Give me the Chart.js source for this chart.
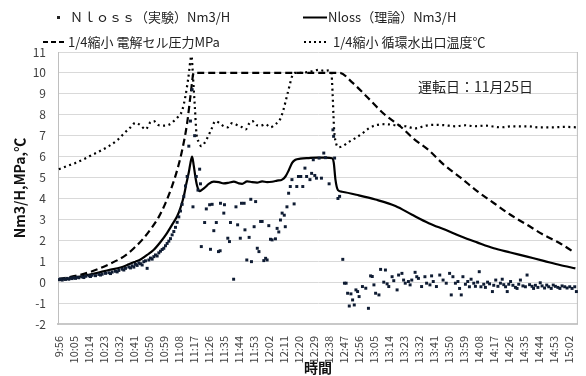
<!DOCTYPE html>
<html lang="ja">
<head>
<meta charset="utf-8">
<script src="https://cdn.jsdelivr.net/npm/chart.js@4.4.1/dist/chart.umd.min.js"></script>
<style>
    html, body { margin: 0; padding: 0; background: #fff; }
    #grafico { width: 586px; height: 376px; position: relative; }
</style>
</head>
<body>
<div id="grafico"><canvas id="lienzo" width="586" height="376"></canvas></div>
<script>
//--------Datos (minutos desde 9:56)
const etiquetasHora = ["9:56","10:05","10:14","10:23","10:32","10:41","10:50","10:59","11:08","11:17",
    "11:26","11:35","11:44","11:53","12:02","12:11","12:20","12:29","12:38","12:47","12:56","13:05",
    "13:14","13:23","13:32","13:41","13:50","13:59","14:08","14:17","14:26","14:35","14:44","14:53","15:02"]
const pasoEtiqueta = 9

//Nloss (実験)
const expT = [0,1,2,3,4,5,6,7,8,9,10,11,12,14,15,16,18,19,20,22,24,25,26,28,30,31,32,34,35,36,38,39,40,42,43,44,45,46,47,48,49,50,51,52,53,54,55,56,57,58,59,60,61,62,63,64,65,66,67,68,69,70,71,72,73,74,75,76,77,78,79,80,80.5,81.5,82.5,83.5,84.5,85,85.5,
    87.5,88.5,90.5,91,92,93,94.5,95.8,96.8,97,99,99.4,101.4,102.4,103,104.9,106.3,107.3,108.9,109.6,111.2,111.7,112.8,114.2,115.2,115.6,117.2,118.1,119.1,120.1,121.1,122,123,124.1,125,126,127,128,130,131,132,133,134,135.3,135.9,136.9,137.9,138.9,139.9,141.2,142.8,143.8,145.2,146.4,147.7,148.7,150.7,151.7,152.7,153.6,154.6,156.2,157.6,159,160,162.2,164.5,164.9,165.5,167.5,168.5,
    170.4,171.4,172.4,173.3,174.3,175.3,176.3,177.3,178.3,179.3,180.2,182.2,184.2,185.8,187.1,188.1,189.1,190.1,192.1,193.1,195,196,197,198,200,201,203,203.9,205.9,206.9,207.9,209.8,210.8,211.8,213.8,214.8,215.8,217.7,219.7,220.7,222.7,223.7,224.7,226.6,228.6,230.6,232.5,234.5,235.5,
    236.5,238,239.5,240.5,241.5,242.5,244,245.4,246.4,247.4,249,250,251.3,252.3,253.3,255,256,257.3,258.5,260.2,261,262.2,263.5,265,266.1,267,268.1,269.1,270,271.1,272.5,274,275,276,277,278.5,280,281,282.5,284,284.9,286,287.5,288.9,290,291.5,292.8,294,295.5,296.7,298,299.5,300.7,302,303.6,305,306.6,308,309.6,310.6]
const expV = [0.12,0.15,0.10,0.16,0.13,0.18,0.14,0.20,0.17,0.22,0.18,0.24,0.21,0.25,0.22,0.28,0.30,0.27,0.33,0.31,0.37,0.34,0.38,0.42,0.45,0.41,0.48,0.52,0.49,0.56,0.62,0.58,0.66,0.72,0.68,0.78,0.72,0.85,0.80,0.92,0.88,0.82,0.98,1.02,0.66,1.06,1.15,1.10,1.22,1.30,1.25,1.40,1.48,1.56,1.62,1.74,1.85,1.96,2.08,2.26,2.42,2.62,2.86,3.12,3.40,3.72,4.10,4.60,5.05,6.50,7.70,9.20,3.60,7.00,5.05,4.40,5.40,4.70,1.70,
    2.85,3.50,3.70,1.57,3.72,2.46,2.85,1.46,1.50,3.77,3.30,3.70,2.10,1.94,2.85,0.14,3.60,2.74,2.10,3.77,3.77,2.50,1.06,2.14,3.96,0.98,2.65,3.85,1.62,1.46,2.90,2.90,1.03,1.14,1.06,2.70,2.05,2.02,2.07,2.57,2.40,2.97,3.30,3.20,2.65,3.60,4.25,4.57,4.90,3.74,4.57,5.05,5.05,4.57,5.45,5.05,4.90,5.20,5.85,5.10,4.97,5.93,4.97,6.17,5.95,4.70,7.28,6.97,5.93,4.00,4.10,
    1.09,-0.05,-0.05,-0.53,-1.14,-0.56,-0.85,-1.09,-0.37,-0.45,-0.69,-0.21,-0.29,-1.25,0.30,0.27,-0.13,-0.53,-0.61,0.61,0.00,0.58,-0.08,-0.21,0.26,0.07,-0.37,0.34,0.42,0.10,-0.05,0.03,-0.13,0.10,0.47,0.26,0.18,-0.21,0.26,-0.05,-0.13,0.30,0.03,-0.21,0.34,0.10,-0.05,0.42,-0.61,
    0.26,-0.05,0.03,-0.30,-0.61,0.26,-0.10,0.03,-0.22,0.14,-0.05,-0.20,0.00,0.50,-0.22,-0.10,-0.25,0.00,-0.08,-0.45,-0.15,0.10,-0.20,-0.05,0.14,-0.12,-0.22,-0.45,-0.10,0.03,-0.15,-0.25,-0.30,-0.10,0.10,-0.18,-0.22,0.34,-0.12,-0.20,-0.30,-0.15,-0.25,-0.03,-0.18,-0.28,-0.14,-0.22,-0.30,-0.14,-0.20,-0.25,-0.30,-0.18,-0.22,-0.28,-0.22,-0.30,-0.22,-0.45]

//Nloss (理論)
const teoT = [0,10,17,25,30,37,42,46,49,53,57,61,65,68,71,73,75,76.5,78,79,80,81,82,83,84.5,86,88,90,93,96,99,102,105,108,110,113,116,119,122,125,128,131,134,136,138,140,142,145,150,155,160,164,165,166,167.5,170,180,190,202,212,222,232,241.5,251,261,271,281,291,300.7,310]
const teoV = [0.10,0.22,0.34,0.48,0.58,0.70,0.85,0.98,1.08,1.30,1.55,1.92,2.36,2.75,3.15,3.55,4.10,4.70,5.25,5.70,6.00,5.55,5.00,4.60,4.35,4.42,4.55,4.70,4.80,4.78,4.72,4.75,4.80,4.72,4.70,4.82,4.78,4.76,4.82,4.78,4.80,4.85,4.90,5.05,5.35,5.70,5.85,5.90,5.93,5.95,5.95,5.92,5.70,4.90,4.40,4.32,4.15,3.95,3.64,3.22,2.82,2.50,2.18,1.90,1.62,1.42,1.22,1.02,0.82,0.66]

//1/4縮小 電解セル圧力
const presionT = [0,10,20,30,40,45,50,55,60,64,68,71,74,77,79,81,100,120,140,160,168.5,176,185,195,205,213,221.7,231,241.5,251,261.2,271,281,290,300.7,308.6]
const presionV = [0.15,0.30,0.52,0.85,1.28,1.62,2.02,2.52,3.12,3.78,4.60,5.35,6.30,7.60,8.90,10.00,10.00,10.00,10.00,10.00,10.00,9.55,8.85,8.05,7.44,6.85,6.33,5.62,4.97,4.35,3.77,3.22,2.74,2.30,1.86,1.46]

//1/4縮小 循環水出口温度
const tempT = [0,5,10,15,20,25,30,35,39,43,46,49,52,55,57,60,63,66,69,71,74,76,77.6,79.6,80.6,81.6,82.6,84,85.5,88.5,91.5,94,96.4,99,101.3,104,107.3,110,112.2,114,116.1,119,121.1,124,127,130,132.9,135,136.9,138.5,139.8,141.5,145,150,153,156,159,162,163.5,164.3,164.8,165.2,166.5,168,170.4,174,178.3,182,186,190.2,196,202,208,213.9,220,226,231.6,238,244,249.4,256,265.2,272,281,288,296.7,304,310.5]
const tempV = [5.40,5.55,5.70,5.88,6.08,6.28,6.50,6.78,7.10,7.40,7.62,7.50,7.30,7.65,7.70,7.50,7.48,7.52,7.70,7.85,8.20,8.90,9.70,10.80,9.70,8.40,7.10,6.70,6.50,6.80,7.30,7.70,7.60,7.45,7.40,7.60,7.50,7.40,7.30,7.55,7.70,7.50,7.48,7.55,7.40,7.55,7.80,8.30,8.90,9.40,9.80,10.00,10.00,10.05,10.10,10.15,10.10,10.12,10.05,9.00,8.00,7.30,6.60,6.45,6.50,6.70,6.90,7.10,7.35,7.50,7.55,7.50,7.45,7.35,7.48,7.52,7.50,7.45,7.50,7.45,7.48,7.40,7.45,7.45,7.40,7.40,7.42,7.40]

const nombresSeries = ["Ｎｌｏｓｓ（実験）Nm3/H", "Nloss（理論）Nm3/H", "1/4縮小 電解セル圧力MPa", "1/4縮小 循環水出口温度℃"]

const fuente = "'Noto Sans CJK JP', 'Noto Sans', sans-serif"

function aPuntos(xs, ys) {
    return xs.map((x, i) => ({ x: x, y: ys[i] }))
}

//----Leyenda y anotación dibujadas a mano
const pluginLeyenda = {
    id: "leyendaManual",
    beforeDatasetsDraw(chart) {
        const ctx = chart.ctx
        const area = chart.chartArea
        ctx.save()
        ctx.strokeStyle = "#bfbfbf"
        ctx.lineWidth = 1
        ctx.beginPath()
        ctx.moveTo(area.right - 0.5, area.top)
        ctx.lineTo(area.right - 0.5, area.bottom)
        ctx.stroke()
        ctx.restore()
    },
    afterDraw(chart) {
        const ctx = chart.ctx
        ctx.save()
        ctx.font = "13px " + fuente
        ctx.fillStyle = "#222"
        ctx.textBaseline = "middle"
        ctx.textAlign = "left"

        //item 1: marcador cuadrado
        ctx.fillRect(57, 16, 3, 3)
        ctx.fillText(nombresSeries[0], 70, 17.5)

        //item 2: línea continua
        ctx.strokeStyle = "#000"
        ctx.lineWidth = 2
        ctx.beginPath()
        ctx.moveTo(303, 17.5)
        ctx.lineTo(327, 17.5)
        ctx.stroke()
        ctx.fillText(nombresSeries[1], 328, 17.5)

        //item 3: discontinua
        ctx.setLineDash([5, 3])
        ctx.beginPath()
        ctx.moveTo(43, 42)
        ctx.lineTo(67, 42)
        ctx.stroke()
        ctx.fillText(nombresSeries[2], 68, 42)

        //item 4: punteada
        ctx.setLineDash([2, 3])
        ctx.beginPath()
        ctx.moveTo(304, 42)
        ctx.lineTo(328, 42)
        ctx.stroke()
        ctx.setLineDash([])
        ctx.fillText(nombresSeries[3], 333, 42)

        //anotación
        ctx.font = "14px " + fuente
        ctx.fillText("運転日：11月25日", 418, 87)
        ctx.restore()
    }
}

window.onload = () => {
    const lienzo = document.getElementById("lienzo")

    new Chart(lienzo, {
        type: "scatter",
        data: {
            datasets: [
                {
                    label: nombresSeries[0],
                    data: aPuntos(expT, expV),
                    showLine: false,
                    pointStyle: "rect",
                    pointRadius: 2.1,
                    pointBorderWidth: 0,
                    backgroundColor: "#0f1c33",
                    borderColor: "#0f1c33"
                },
                {
                    label: nombresSeries[1],
                    data: aPuntos(teoT, teoV),
                    showLine: true,
                    borderColor: "#000",
                    borderWidth: 2.2,
                    pointRadius: 0,
                    cubicInterpolationMode: "monotone"
                },
                {
                    label: nombresSeries[2],
                    data: aPuntos(presionT, presionV),
                    showLine: true,
                    borderColor: "#000",
                    borderWidth: 2.2,
                    borderDash: [7, 4],
                    pointRadius: 0,
                    cubicInterpolationMode: "monotone"
                },
                {
                    label: nombresSeries[3],
                    data: aPuntos(tempT, tempV),
                    showLine: true,
                    borderColor: "#000",
                    borderWidth: 2.2,
                    borderDash: [2, 3.5],
                    pointRadius: 0,
                    cubicInterpolationMode: "monotone"
                }
            ]
        },
        options: {
            responsive: false,
            animation: false,
            events: [],
            layout: { padding: { top: 52, right: 1, left: 0, bottom: 0 } },
            plugins: {
                legend: { display: false },
                tooltip: { enabled: false }
            },
            scales: {
                x: {
                    type: "linear",
                    min: -0.5,
                    max: 311.5,
                    afterBuildTicks: (eje) => {
                        eje.ticks = etiquetasHora.map((e, i) => ({ value: i * pasoEtiqueta }))
                    },
                    afterFit: (eje) => { eje.height = 52 },
                    grid: { display: false },
                    border: { display: true, color: "#c8c8c8", width: 2 },
                    ticks: {
                        autoSkip: false,
                        minRotation: 90,
                        maxRotation: 90,
                        padding: 4,
                        color: "#404040",
                        font: { size: 11, family: fuente },
                        callback: (valor, indice) => etiquetasHora[indice]
                    },
                    title: {
                        display: true,
                        text: "時間",
                        color: "#111",
                        padding: { top: 0, bottom: 0 },
                        font: { size: 14, weight: "bold", family: fuente }
                    }
                },
                y: {
                    min: -2,
                    max: 11,
                    afterFit: (eje) => { eje.width = 58 },
                    grid: { color: "#d9d9d9", lineWidth: 1, drawTicks: false },
                    border: { display: true, color: "#bfbfbf", width: 1 },
                    ticks: {
                        stepSize: 1,
                        padding: 12,
                        color: "#404040",
                        font: { size: 12, family: fuente }
                    },
                    title: {
                        display: true,
                        text: "Nm3/H,MPa,℃",
                        color: "#111",
                        padding: { top: 11, bottom: 0 },
                        font: { size: 14, weight: "bold", family: fuente }
                    }
                }
            }
        },
        plugins: [pluginLeyenda]
    })
}
</script>
</body>
</html>
